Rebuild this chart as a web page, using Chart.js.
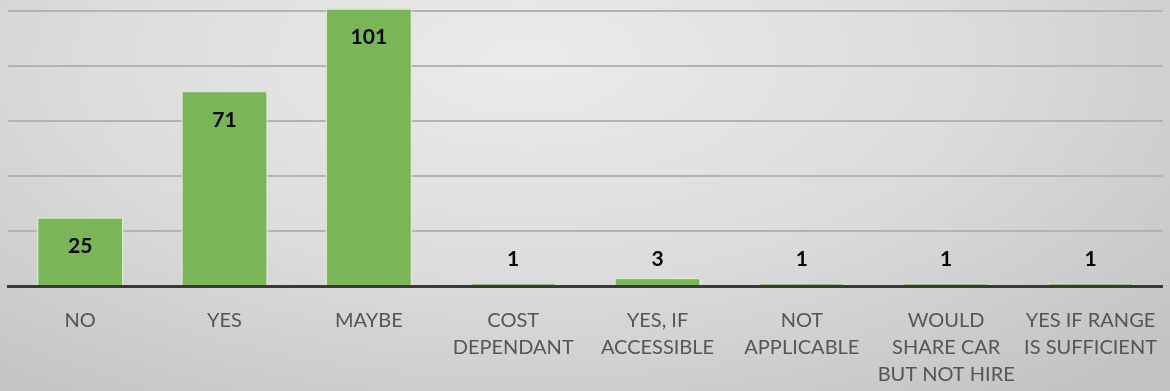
<!DOCTYPE html>
<html>
<head>
<meta charset="utf-8">
<script src="https://cdn.jsdelivr.net/npm/chart.js@4"></script>
<style>
  html, body { margin: 0; padding: 0; }
  body {
    width: 1170px; height: 391px; overflow: hidden;
    background: radial-gradient(ellipse 75% 110% at 45% 15%, #ebebeb 0%, #dcdcdc 50%, #c2c2c2 100%);
  }
  #wrap { position: relative; width: 1170px; height: 391px; }
</style>
</head>
<body>
<div id="wrap"><canvas id="answers"></canvas></div>
<script>
const categories = [
  ['NO'], ['YES'], ['MAYBE'], ['COST', 'DEPENDANT'], ['YES, IF', 'ACCESSIBLE'],
  ['NOT', 'APPLICABLE'], ['WOULD', 'SHARE CAR', 'BUT NOT HIRE'], ['YES IF RANGE', 'IS SUFFICIENT']
];
const counts = [25, 71, 101, 1, 3, 1, 1, 1];
const gridStep = 20;

// count labels sit inside the top of each bar, floated above the axis for short bars
const countLabels = {
  id: 'countLabels',
  afterDraw(chart) {
    const ctx = chart.ctx;
    const meta = chart.getDatasetMeta(0);
    ctx.save();
    ctx.font = 'bold 21px Lato, "Open Sans", sans-serif';
    ctx.fillStyle = '#050505';
    ctx.textAlign = 'center';
    ctx.textBaseline = 'middle';
    meta.data.forEach((bar, i) => {
      const y = Math.min(bar.y + 29, bar.base - 26);
      ctx.fillText(String(counts[i]), bar.x, y);
    });
    ctx.restore();
  }
};

new Chart(document.getElementById('answers'), {
  type: 'bar',
  data: {
    labels: categories,
    datasets: [{
      data: counts,
      backgroundColor: '#7ab558',
      borderColor: '#d6ecc8',
      borderWidth: 1.5,
      borderSkipped: 'bottom',
      categoryPercentage: 1,
      barPercentage: 0.6
    }]
  },
  options: {
    responsive: true,
    maintainAspectRatio: false,
    animation: false,
    layout: { padding: { left: 8, right: 0, top: 0, bottom: 0 } },
    plugins: { legend: { display: false }, tooltip: { enabled: false } },
    scales: {
      x: {
        z: 1,
        grid: { display: false },
        border: { display: true, color: '#3a3a3a', width: 3 },
        ticks: {
          color: '#555555',
          font: { family: 'Lato, "Open Sans", sans-serif', size: 20, lineHeight: 1.35 },
          padding: 13,
          maxRotation: 0,
          autoSkip: false
        },
        afterFit(scale) { scale.height = 105; }
      },
      y: {
        min: 0,
        max: 104,
        grid: { color: '#b3b3b3', lineWidth: 2, drawTicks: false },
        border: { display: false },
        ticks: { display: false, stepSize: gridStep, includeBounds: false },
        afterFit(scale) { scale.width = 0; }
      }
    }
  },
  plugins: [countLabels]
});
</script>
</body>
</html>
